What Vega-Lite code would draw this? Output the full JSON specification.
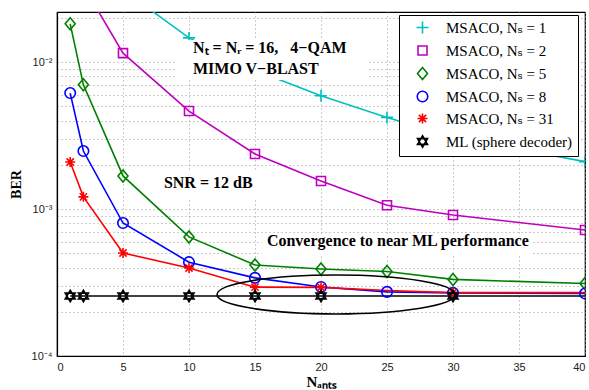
{
  "$schema": "https://vega.github.io/schema/vega-lite/v6.json",
  "width": 528,
  "height": 344,
  "autosize": {"type": "none"},
  "padding": {"left": 57, "top": 12, "right": 4, "bottom": 34},
  "background": "white",
  "datasets": {
    "curves": [
      {"series": "MSACO, Nₛ = 1", "N": 1, "BER": 0.09, "mk": true},
      {"series": "MSACO, Nₛ = 1", "N": 2, "BER": 0.065, "mk": true},
      {"series": "MSACO, Nₛ = 1", "N": 5, "BER": 0.031, "mk": true},
      {"series": "MSACO, Nₛ = 1", "N": 10, "BER": 0.0146, "mk": true},
      {"series": "MSACO, Nₛ = 1", "N": 15, "BER": 0.0088, "mk": true},
      {"series": "MSACO, Nₛ = 1", "N": 20, "BER": 0.0059, "mk": true},
      {"series": "MSACO, Nₛ = 1", "N": 25, "BER": 0.0042, "mk": true},
      {"series": "MSACO, Nₛ = 1", "N": 30, "BER": 0.0031, "mk": true},
      {"series": "MSACO, Nₛ = 1", "N": 40, "BER": 0.0021, "mk": true},
      {"series": "MSACO, Nₛ = 2", "N": 1, "BER": 0.05, "mk": true},
      {"series": "MSACO, Nₛ = 2", "N": 2, "BER": 0.033, "mk": true},
      {"series": "MSACO, Nₛ = 2", "N": 5, "BER": 0.0115, "mk": true},
      {"series": "MSACO, Nₛ = 2", "N": 10, "BER": 0.00464, "mk": true},
      {"series": "MSACO, Nₛ = 2", "N": 15, "BER": 0.00237, "mk": true},
      {"series": "MSACO, Nₛ = 2", "N": 20, "BER": 0.00155, "mk": true},
      {"series": "MSACO, Nₛ = 2", "N": 25, "BER": 0.00106, "mk": true},
      {"series": "MSACO, Nₛ = 2", "N": 30, "BER": 0.00091, "mk": true},
      {"series": "MSACO, Nₛ = 2", "N": 40, "BER": 0.00072, "mk": true},
      {"series": "MSACO, Nₛ = 5", "N": 1, "BER": 0.0182, "mk": true},
      {"series": "MSACO, Nₛ = 5", "N": 2, "BER": 0.0070, "mk": true},
      {"series": "MSACO, Nₛ = 5", "N": 5, "BER": 0.00168, "mk": true},
      {"series": "MSACO, Nₛ = 5", "N": 10, "BER": 0.000646, "mk": true},
      {"series": "MSACO, Nₛ = 5", "N": 15, "BER": 0.000416, "mk": true},
      {"series": "MSACO, Nₛ = 5", "N": 20, "BER": 0.000391, "mk": true},
      {"series": "MSACO, Nₛ = 5", "N": 25, "BER": 0.000376, "mk": true},
      {"series": "MSACO, Nₛ = 5", "N": 30, "BER": 0.000332, "mk": true},
      {"series": "MSACO, Nₛ = 5", "N": 40, "BER": 0.000311, "mk": true},
      {"series": "MSACO, Nₛ = 8", "N": 1, "BER": 0.00615, "mk": true},
      {"series": "MSACO, Nₛ = 8", "N": 2, "BER": 0.00248, "mk": true},
      {"series": "MSACO, Nₛ = 8", "N": 5, "BER": 0.000803, "mk": true},
      {"series": "MSACO, Nₛ = 8", "N": 10, "BER": 0.000435, "mk": true},
      {"series": "MSACO, Nₛ = 8", "N": 15, "BER": 0.00034, "mk": true},
      {"series": "MSACO, Nₛ = 8", "N": 20, "BER": 0.000295, "mk": true},
      {"series": "MSACO, Nₛ = 8", "N": 25, "BER": 0.000273, "mk": true},
      {"series": "MSACO, Nₛ = 8", "N": 30, "BER": 0.000269, "mk": true},
      {"series": "MSACO, Nₛ = 8", "N": 40, "BER": 0.000266, "mk": true},
      {"series": "MSACO, Nₛ = 31", "N": 1, "BER": 0.00209, "mk": true},
      {"series": "MSACO, Nₛ = 31", "N": 2, "BER": 0.00121, "mk": true},
      {"series": "MSACO, Nₛ = 31", "N": 5, "BER": 0.000502, "mk": true},
      {"series": "MSACO, Nₛ = 31", "N": 10, "BER": 0.000397, "mk": true},
      {"series": "MSACO, Nₛ = 31", "N": 15, "BER": 0.000294, "mk": true},
      {"series": "MSACO, Nₛ = 31", "N": 20, "BER": 0.000293, "mk": true},
      {"series": "MSACO, Nₛ = 31", "N": 25, "BER": 0.000279, "mk": false},
      {"series": "MSACO, Nₛ = 31", "N": 30, "BER": 0.00027, "mk": true},
      {"series": "MSACO, Nₛ = 31", "N": 40, "BER": 0.00027, "mk": false},
      {"series": "ML (sphere decoder)", "N": 1, "BER": 0.000256, "mk": true},
      {"series": "ML (sphere decoder)", "N": 2, "BER": 0.000256, "mk": true},
      {"series": "ML (sphere decoder)", "N": 5, "BER": 0.000256, "mk": true},
      {"series": "ML (sphere decoder)", "N": 10, "BER": 0.000256, "mk": true},
      {"series": "ML (sphere decoder)", "N": 15, "BER": 0.000256, "mk": true},
      {"series": "ML (sphere decoder)", "N": 20, "BER": 0.000256, "mk": true},
      {"series": "ML (sphere decoder)", "N": 25, "BER": 0.000256, "mk": false},
      {"series": "ML (sphere decoder)", "N": 30, "BER": 0.000256, "mk": true},
      {"series": "ML (sphere decoder)", "N": 40, "BER": 0.000256, "mk": false}
    ],
    "boxes": [
      {"x1": 9.1, "x2": 23.5, "b1": 0.00755, "b2": 0.0141},
      {"x1": 7.8, "x2": 15.15, "b1": 0.00115, "b2": 0.00184},
      {"x1": 15.5, "x2": 36, "b1": 0.000494, "b2": 0.000676}
    ],
    "notes": [
      {"N": 10.3, "BER": 0.0115, "label": "Nₜ = Nᵣ = 16,\u00a0\u00a0 4−QAM"},
      {"N": 10.3, "BER": 0.00828, "label": "MIMO V−BLAST"},
      {"N": 8.1, "BER": 0.00139, "label": "SNR = 12 dB"},
      {"N": 15.9, "BER": 0.00056, "label": "Convergence to near ML performance"}
    ],
    "ellipse": [
      {"N": 21.14, "BER": 0.000262}
    ]
  },
  "layer": [
    {
      "data": {"name": "curves"},
      "mark": {"type": "line", "clip": true, "strokeWidth": 1.6},
      "encoding": {
        "x": {"field": "N", "type": "quantitative"},
        "y": {"field": "BER", "type": "quantitative"},
        "color": {
          "field": "series", "type": "nominal",
          "scale": {"domain": ["MSACO, Nₛ = 1", "MSACO, Nₛ = 2", "MSACO, Nₛ = 5", "MSACO, Nₛ = 8", "MSACO, Nₛ = 31", "ML (sphere decoder)"], "range": ["#00BFBF", "#BF00BF", "#008000", "#0000FF", "#FF0000", "#000000"]},
          "legend": {
            "title": null, "orient": "none", "legendX": 342, "legendY": 3, "direction": "vertical",
            "fillColor": "white", "strokeColor": "black", "padding": 5,
            "symbolSize": 100, "symbolStrokeWidth": 1.6, "symbolOffset": 11, "labelOffset": 16, "rowPadding": 5,
            "labelFont": "Liberation Serif, Times New Roman, DejaVu Serif, serif", "labelFontSize": 15, "labelFontWeight": "normal", "labelColor": "black", "labelLimit": 300,
            "symbolFillColor": "transparent",
            "encoding": {"symbols": {"update": {"shape": {"signal": "'M-3.3,0L3.3,0' + scale('shape', datum.value)"}}}}
          }
        },
        "order": {"field": "N", "type": "quantitative"}
      }
    },
    {
      "data": {"name": "curves"},
      "transform": [{"filter": "datum.mk"}],
      "mark": {"type": "point", "clip": true, "filled": false, "strokeWidth": 1.6, "size": 100, "opacity": 1},
      "encoding": {
        "x": {"field": "N", "type": "quantitative"},
        "y": {"field": "BER", "type": "quantitative"},
        "color": {
          "field": "series", "type": "nominal",
          "scale": {"domain": ["MSACO, Nₛ = 1", "MSACO, Nₛ = 2", "MSACO, Nₛ = 5", "MSACO, Nₛ = 8", "MSACO, Nₛ = 31", "ML (sphere decoder)"], "range": ["#00BFBF", "#BF00BF", "#008000", "#0000FF", "#FF0000", "#000000"]},
          "legend": {
            "title": null, "orient": "none", "legendX": 342, "legendY": 3, "direction": "vertical",
            "fillColor": "white", "strokeColor": "black", "padding": 5,
            "symbolSize": 100, "symbolStrokeWidth": 1.6, "symbolOffset": 11, "labelOffset": 16, "rowPadding": 5,
            "labelFont": "Liberation Serif, Times New Roman, DejaVu Serif, serif", "labelFontSize": 15, "labelFontWeight": "normal", "labelColor": "black", "labelLimit": 300,
            "symbolFillColor": "transparent",
            "encoding": {"symbols": {"update": {"shape": {"signal": "'M-3.3,0L3.3,0' + scale('shape', datum.value)"}}}}
          }
        },
        "shape": {
          "field": "series", "type": "nominal",
          "scale": {
            "domain": ["MSACO, Nₛ = 1", "MSACO, Nₛ = 2", "MSACO, Nₛ = 5", "MSACO, Nₛ = 8", "MSACO, Nₛ = 31", "ML (sphere decoder)"],
            "range": [
              "M-1.2,0L1.2,0M0,-1.2L0,1.2",
              "M-0.9,-0.9L0.9,-0.9L0.9,0.9L-0.9,0.9Z",
              "M0,-1.2L1.0,0L0,1.2L-1.0,0Z",
              "M1.05,0A1.05,1.05,0,1,1,-1.05,0A1.05,1.05,0,1,1,1.05,0Z",
              "M-1,0L1,0M0,-1L0,1M-0.72,-0.72L0.72,0.72M-0.72,0.72L0.72,-0.72",
              "M0,-1.15L1,0.58L-1,0.58Z M0,1.15L1,-0.58L-1,-0.58Z"
            ]
          },
          "legend": {
            "title": null, "orient": "none", "legendX": 342, "legendY": 3, "direction": "vertical",
            "fillColor": "white", "strokeColor": "black", "padding": 5,
            "symbolSize": 100, "symbolStrokeWidth": 1.6, "symbolOffset": 11, "labelOffset": 16, "rowPadding": 5,
            "labelFont": "Liberation Serif, Times New Roman, DejaVu Serif, serif", "labelFontSize": 15, "labelFontWeight": "normal", "labelColor": "black", "labelLimit": 300,
            "symbolFillColor": "transparent",
            "encoding": {"symbols": {"update": {"shape": {"signal": "'M-3.3,0L3.3,0' + scale('shape', datum.value)"}}}}
          }
        }
      }
    },
    {
      "data": {"name": "ellipse"},
      "mark": {"type": "point", "filled": false, "stroke": "black", "strokeWidth": 1.6, "size": 56644, "shape": "M-1,0A1,0.164,0,1,1,1,0A1,0.164,0,1,1,-1,0Z", "opacity": 1},
      "encoding": {
        "x": {"field": "N", "type": "quantitative"},
        "y": {"field": "BER", "type": "quantitative"}
      }
    },
    {
      "data": {"name": "boxes"},
      "mark": {"type": "rect", "fill": "white", "stroke": null},
      "encoding": {
        "x": {"field": "x1", "type": "quantitative"},
        "x2": {"field": "x2"},
        "y": {"field": "b1", "type": "quantitative"},
        "y2": {"field": "b2"}
      }
    },
    {
      "data": {"name": "notes"},
      "mark": {"type": "text", "align": "left", "baseline": "alphabetic", "font": "Liberation Serif", "fontWeight": "bold", "fontSize": 16, "color": "black"},
      "encoding": {
        "x": {"field": "N", "type": "quantitative"},
        "y": {"field": "BER", "type": "quantitative"},
        "text": {"field": "label"}
      }
    }
  ],
  "encoding": {
    "x": {
      "field": "N", "type": "quantitative",
      "scale": {"domain": [0, 40], "nice": false, "zero": false},
      "axis": {
        "values": [0, 5, 10, 15, 20, 25, 30, 35, 40],
        "title": "Nₐₙₜₛ",
        "titleFont": "Liberation Serif",
        "titleFontWeight": "bold",
        "titleFontSize": 15,
        "titlePadding": 2
      }
    },
    "y": {
      "field": "BER", "type": "quantitative",
      "scale": {"type": "log", "domain": [0.0001, 0.0219], "nice": false},
      "axis": {
        "values": [0.0001, 0.0002, 0.0003, 0.0004, 0.0005, 0.0006, 0.0007, 0.0008, 0.0009, 0.001, 0.002, 0.003, 0.004, 0.005, 0.006, 0.007, 0.008, 0.009, 0.01, 0.02],
        "labelExpr": "datum.value == 0.0001 ? '10⁻⁴' : datum.value == 0.001 ? '10⁻³' : datum.value == 0.01 ? '10⁻²' : ''",
        "title": "BER",
        "titleFont": "Liberation Serif",
        "titleFontWeight": "bold",
        "titleFontSize": 14,
        "titlePadding": 8
      }
    }
  },
  "config": {
    "view": {"stroke": "black", "strokeWidth": 1.2},
    "axis": {
      "grid": true,
      "gridColor": "#999999",
      "gridDash": [1, 3],
      "gridWidth": 1,
      "ticks": false,
      "domainColor": "black",
      "domainWidth": 1.2,
      "labelFont": "Liberation Sans",
      "labelFontSize": 11,
      "labelColor": "#222222",
      "labelPadding": 5
    }
  }
}
